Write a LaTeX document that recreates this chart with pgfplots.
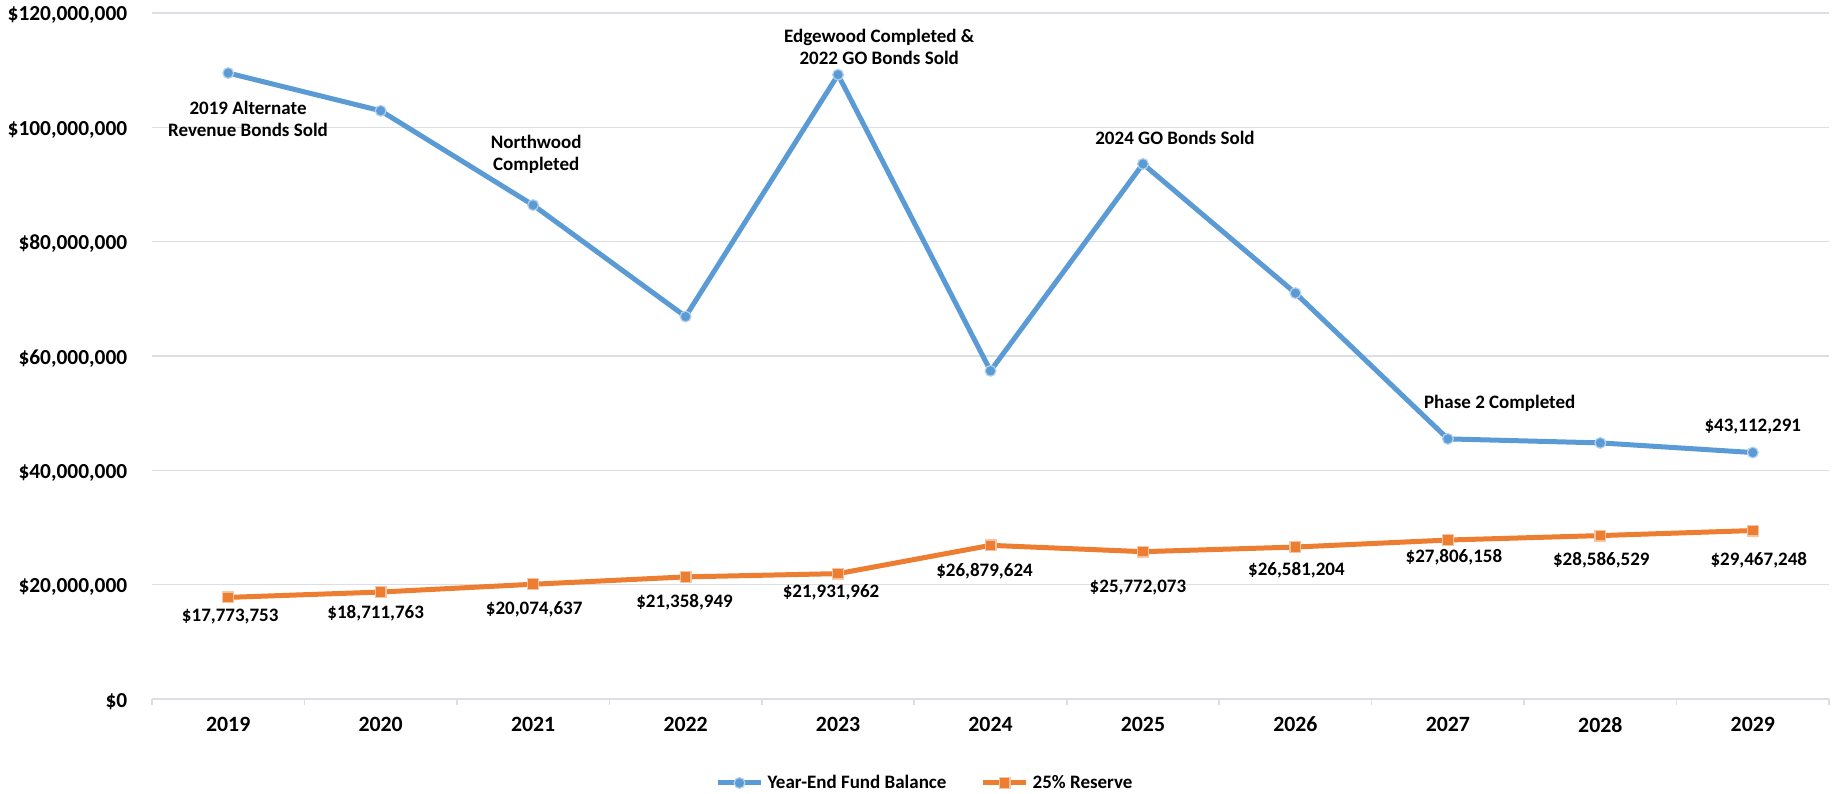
\documentclass[border=0pt]{standalone}
\usepackage{fontspec}
\setmainfont{Carlito}
\usepackage{pgfplots}
\pgfplotsset{compat=1.18}
\definecolor{cblue}{HTML}{5B9BD5}
\definecolor{corange}{HTML}{ED7D31}
\definecolor{cgrid}{HTML}{DDDDE4}
\begin{document}
\begin{tikzpicture}[font=\bfseries\fontsize{9.5}{11}\selectfont]
\path[use as bounding box] (-76pt,-47pt) rectangle (843.5pt,349.5pt);
\begin{axis}[
  at={(0,0)}, anchor=south west,
  scale only axis, width=838.5pt, height=343pt,
  xmin=-0.5, xmax=10.5, ymin=0, ymax=120000000,
  scaled y ticks=false, scaled x ticks=false,
  axis x line*=bottom, axis y line*=left,
  x axis line style={draw=cgrid, line width=0.8pt, -},
  y axis line style={draw=none, -},
  xtick={0,...,10},
  xticklabels={2019,2020,2021,2022,2023,2024,2025,2026,2027,2028,2029},
  minor xtick={-0.5,0.5,...,10.5},
  ytick={0,20000000,40000000,60000000,80000000,100000000,120000000},
  yticklabels={{\$0},{\$20,000,000},{\$40,000,000},{\$60,000,000},{\$80,000,000},{\$100,000,000},{\$120,000,000}},
  major tick length=0pt, minor tick length=3pt, tick align=outside,
  minor tick style={draw=cgrid, line width=0.8pt},
  ymajorgrids, grid style={draw=cgrid, line width=0.7pt},
  xticklabel style={font=\bfseries\fontsize{10.9}{12}\selectfont, yshift=-5.5pt},
  yticklabel style={font=\bfseries\fontsize{10.7}{12}\selectfont, inner sep=0pt, anchor=base east, xshift=-12.2pt, yshift=-4pt},
  legend columns=2,
  legend style={draw=none, fill=none, at={(0.4615,-0.1224)}, anchor=center,
    font=\bfseries\fontsize{9.5}{11}\selectfont,
    /tikz/every even column/.append style={column sep=15pt}},
  legend image code/.code={\draw[mark repeat=2,mark phase=2] plot coordinates {(0cm,0cm) (0.38cm,0cm) (0.76cm,0cm)};},
  clip=false,
]
\addplot[cblue, line width=2.5pt, mark=*, mark size=2.7pt,
  mark options={fill=cblue, draw=white!55!cblue, line width=0.6pt}]
  table[x=x, y=y] {
x y
0 109500000
1 102900000
2 86400000
3 66900000
4 109200000
5 57400000
6 93600000
7 71000000
8 45500000
9 44800000
10 43112291
};
\addlegendentry{Year-End Fund Balance}
\addplot[corange, line width=2.5pt, mark=square*, mark size=2.7pt,
  mark options={fill=corange, draw=white!55!corange, line width=0.6pt},
  point meta=explicit symbolic,
  visualization depends on={\thisrow{dx} \as \dx},
  visualization depends on={\thisrow{dy} \as \dy},
  nodes near coords={\$\pgfplotspointmeta},
  every node near coord/.append style={black, anchor=center, xshift=\dx pt, yshift=-\dy pt,
    font=\bfseries\fontsize{9.5}{11}\selectfont}]
  table[x=x, y=y, meta=label] {
x y label dx dy
0 17773753 17,773,753 1 9.5
1 18711763 18,711,763 -2.5 10.5
2 20074637 20,074,637 0.5 12.5
3 21358949 21,358,949 -0.5 12.5
4 21931962 21,931,962 -3.5 9.5
5 26879624 26,879,624 -3 13
6 25772073 25,772,073 -2.5 18
7 26581204 26,581,204 0.5 11.5
8 27806158 27,806,158 3 8.5
9 28586529 28,586,529 0.5 12.5
10 29467248 29,467,248 3 15
};
\addlegendentry{25\% Reserve}
\node[align=center] at (axis cs:0.13,101460000) {2019 Alternate\\Revenue Bonds Sold};
\node[align=center] at (axis cs:2.02,95300000) {Northwood\\Completed};
\node[align=center] at (axis cs:4.27,114050000) {Edgewood Completed \&\\2022 GO Bonds Sold};
\node[align=center] at (axis cs:6.21,98100000) {2024 GO Bonds Sold};
\node[align=center] at (axis cs:8.34,51800000) {Phase 2 Completed};
\node[align=center] at (axis cs:10.0,47600000) {\$43,112,291};
\end{axis}
\end{tikzpicture}
\end{document}
